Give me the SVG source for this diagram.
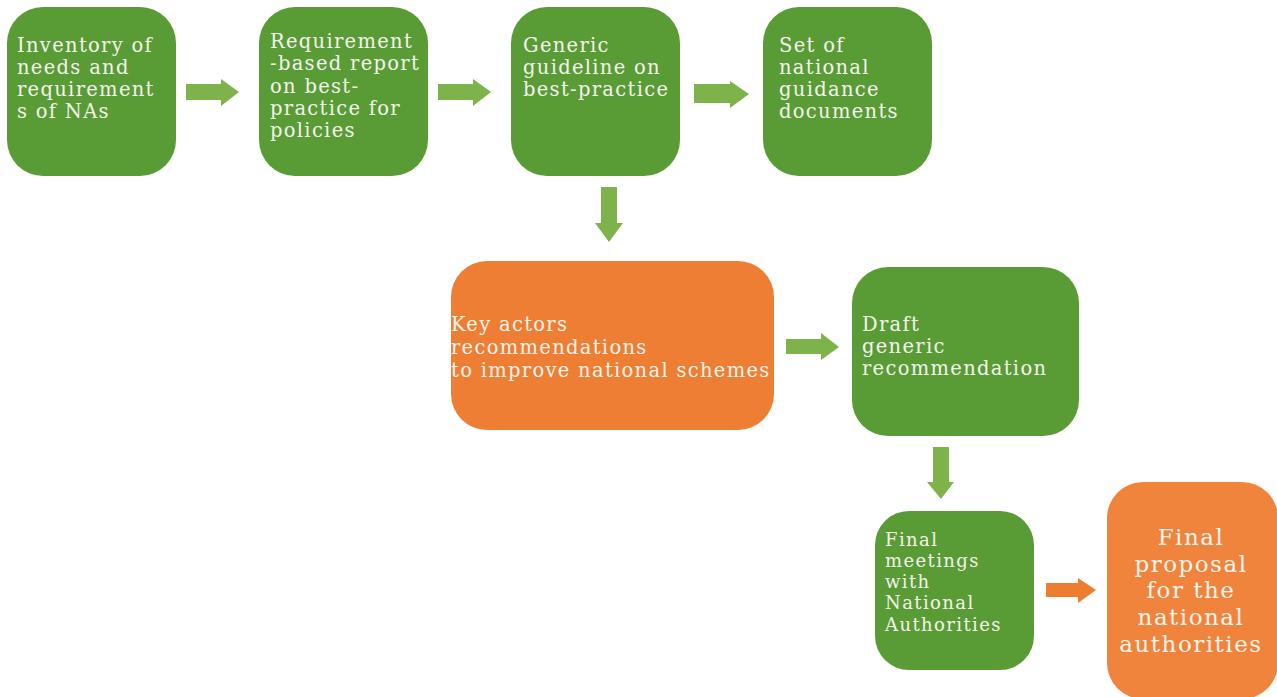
<svg xmlns="http://www.w3.org/2000/svg" width="1277" height="697" viewBox="0 0 1277 697">
<style>
.g{fill:#599b35}
.o{fill:#ed7e33}
.o2{fill:#f0843d}
.ag{fill:#7eb34c}
.ao{fill:#ee7d31}
text{font-family:"DejaVu Serif","Liberation Serif",serif;fill:#f4f4ec;font-size:19.5px;letter-spacing:1.3px}
.big{font-size:23px;letter-spacing:1.5px;text-anchor:middle}
.sm{font-size:18px;letter-spacing:1.4px}
</style>
<rect width="1277" height="697" fill="#ffffff"/>
<g id="n1"><rect class="g" x="7" y="7" width="169" height="169" rx="36"/>
<text x="17"><tspan x="17" y="52">Inventory of</tspan><tspan x="17" y="74">needs and</tspan><tspan x="17" y="96">requirement</tspan><tspan x="17" y="118">s of NAs</tspan></text></g>
<g id="n2"><rect class="g" x="259" y="7" width="169" height="169" rx="36"/>
<text><tspan x="270" y="48">Requirement</tspan><tspan x="270" y="70">-based report</tspan><tspan x="270" y="93">on best-</tspan><tspan x="270" y="115">practice for</tspan><tspan x="270" y="137">policies</tspan></text></g>
<g id="n3"><rect class="g" x="511" y="7" width="169" height="169" rx="36"/>
<text><tspan x="523" y="52">Generic</tspan><tspan x="523" y="74">guideline on</tspan><tspan x="523" y="96">best-practice</tspan></text></g>
<g id="n4"><rect class="g" x="763" y="7" width="169" height="169" rx="36"/>
<text><tspan x="779" y="52">Set of</tspan><tspan x="779" y="74">national</tspan><tspan x="779" y="96">guidance</tspan><tspan x="779" y="118">documents</tspan></text></g>
<g id="n5"><rect class="o" x="451" y="261" width="323" height="169" rx="36"/>
<text><tspan x="451" y="331">Key actors</tspan><tspan x="451" y="354">recommendations</tspan><tspan x="451" y="377">to improve national schemes</tspan></text></g>
<g id="n6"><rect class="g" x="852" y="267" width="227" height="169" rx="36"/>
<text><tspan x="862" y="331">Draft</tspan><tspan x="862" y="353">generic</tspan><tspan x="862" y="375">recommendation</tspan></text></g>
<g id="n7"><rect class="g" x="875" y="511" width="159" height="159" rx="34"/>
<text class="sm"><tspan x="885" y="546">Final</tspan><tspan x="885" y="567">meetings</tspan><tspan x="885" y="588">with</tspan><tspan x="885" y="609">National</tspan><tspan x="885" y="631">Authorities</tspan></text></g>
<g id="n8"><rect class="o2" x="1107" y="482" width="171" height="217" rx="36"/>
<text class="big"><tspan x="1191" y="545">Final</tspan><tspan x="1191" y="572">proposal</tspan><tspan x="1191" y="598">for the</tspan><tspan x="1191" y="625">national</tspan><tspan x="1191" y="652">authorities</tspan></text></g>
<g id="connectors">
<polygon class="ag" points="186,84 221,84 221,79 239,92 221,106 221,100 186,100"/>
<polygon class="ag" points="438,84 473,84 473,79 491,92 473,106 473,100 438,100"/>
<polygon class="ag" points="694,84 730,84 730,81 749,94 730,108 730,103 694,103"/>
<polygon class="ag" points="601,187 617,187 617,223 623,223 609,242 595,223 601,223"/>
<polygon class="ag" points="786,339 821,339 821,333 839,347 821,360 821,354 786,354"/>
<polygon class="ag" points="933,447 949,447 949,482 954,482 941,499 927,482 933,482"/>
<polygon class="ao" points="1046,583 1078,583 1078,578 1096,590 1078,603 1078,597 1046,597"/>
</g>
</svg>
